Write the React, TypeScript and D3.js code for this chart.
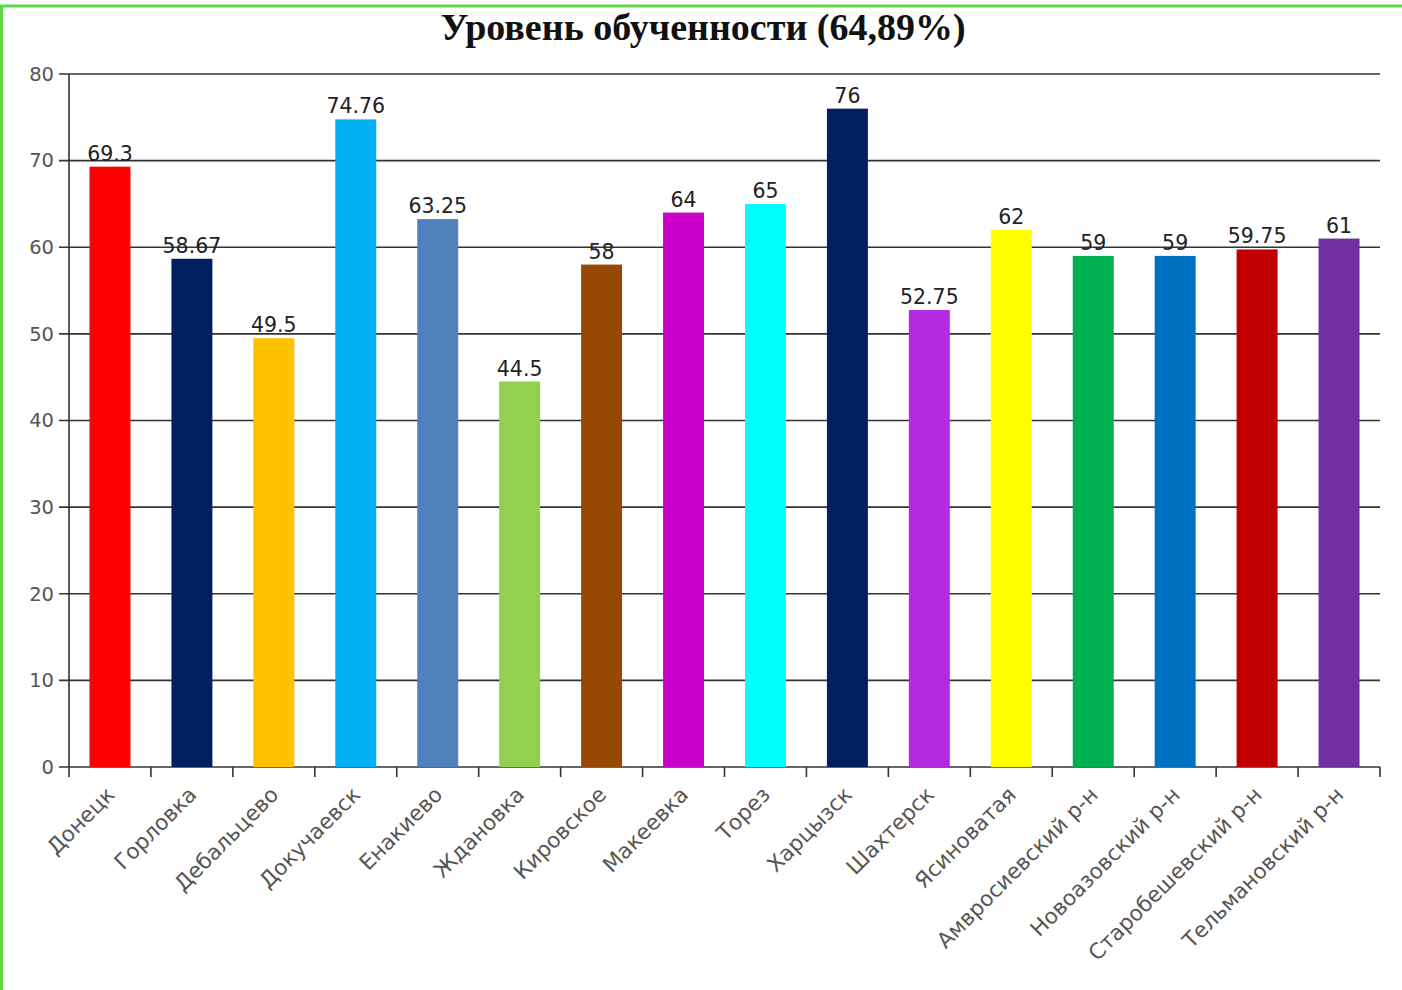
import * as d3 from 'd3'
import React from 'react'

const categories = [
  'Донецк', 'Горловка', 'Дебальцево', 'Докучаевск', 'Енакиево', 'Ждановка', 'Кировское', 'Макеевка',
  'Торез', 'Харцызск', 'Шахтерск', 'Ясиноватая', 'Амвросиевский р-н', 'Новоазовский р-н',
  'Старобешевский р-н', 'Тельмановский р-н',
]
const values = [69.3, 58.67, 49.5, 74.76, 63.25, 44.5, 58, 64, 65, 76, 52.75, 62, 59, 59, 59.75, 61]
const colors = [
  '#ff0000', '#002060', '#ffc000', '#00b0f0', '#4f81bd', '#92d050', '#974706', '#cc00cc',
  '#00ffff', '#002060', '#b32ae0', '#ffff00', '#00b050', '#0070c0', '#c00000', '#7030a0',
]
const yTicks = [0, 10, 20, 30, 40, 50, 60, 70, 80]
const title = 'Уровень обученности (64,89%)'

const W = 1402, H = 990
const m = { left: 69, right: 22, top: 74, bottom: 223 }

export default function App() {
  const
    x = d3.scaleBand<string>().domain(categories).range([m.left, W - m.right]).paddingInner(0.5).paddingOuter(0.25),
    y = d3.scaleLinear().domain([0, 80]).range([H - m.bottom, m.top]),
    step = x.step(),
    font = '"DejaVu Sans", Verdana, sans-serif'

  return (
    <svg width={W} height={H} style={{ position: 'absolute', left: 0, top: 0, background: '#fff' }}>
      <line x1={1.5} x2={1.5} y1={5} y2={H} stroke='#5fd64a' strokeWidth={3} />
      <line x1={0} x2={W} y1={6} y2={6} stroke='#5fd64a' strokeWidth={3} />
      <text x={703} y={40} textAnchor='middle' fontFamily='"Liberation Serif", "Times New Roman", serif'
        fontWeight='bold' fontSize={38} fill='#111'>{title}</text>
      {yTicks.map(t => (
        <g key={t}>
          <line x1={m.left - 10} x2={W - m.right} y1={y(t)} y2={y(t)} stroke='#333' strokeWidth={1.6} />
          <text x={m.left - 15} y={y(t)} dy='0.35em' textAnchor='end' fontFamily={font} fontSize={19.5} fill='#555'>{t}</text>
        </g>
      ))}
      <line x1={m.left} x2={m.left} y1={y(80)} y2={y(0)} stroke='#333' strokeWidth={1.6} />
      {d3.range(categories.length + 1).map(i => (
        <line key={i} x1={m.left + i * step} x2={m.left + i * step} y1={y(0)} y2={y(0) + 10} stroke='#333' strokeWidth={1.6} />
      ))}
      {categories.map((c, i) => (
        <g key={c}>
          <rect x={x(c)} y={y(values[i])} width={x.bandwidth()} height={y(0) - y(values[i])} fill={colors[i]} />
          <text x={x(c)! + x.bandwidth() / 2} y={y(values[i]) - 6} textAnchor='middle' fontFamily={font}
            fontSize={20.5} fill='#222'>{String(values[i])}</text>
          <text transform={`translate(${x(c)! + x.bandwidth() / 2 + 6},${y(0) + 29}) rotate(-45)`} textAnchor='end'
            fontFamily={font} fontSize={21.5} fill='#555'>{c}</text>
        </g>
      ))}
    </svg>
  )
}
